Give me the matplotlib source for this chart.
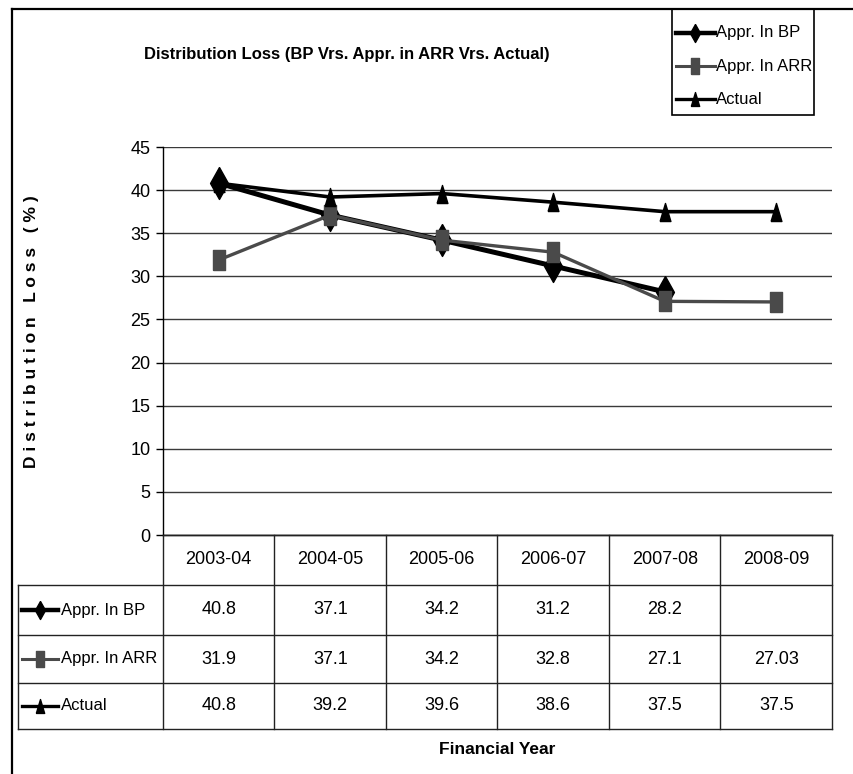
import matplotlib.pyplot as plt
import numpy as np
from matplotlib.patches import Rectangle

plt.rcParams['font.family'] = ['Liberation Sans Narrow', 'Liberation Sans', 'DejaVu Sans']

years = ['2003-04', '2004-05', '2005-06', '2006-07', '2007-08', '2008-09']
appr_bp = [40.8, 37.1, 34.2, 31.2, 28.2, None]
appr_arr = [31.9, 37.1, 34.2, 32.8, 27.1, 27.03]
actual = [40.8, 39.2, 39.6, 38.6, 37.5, 37.5]
series_names = ['Appr. In BP', 'Appr. In ARR', 'Actual']
yticks = [0, 5, 10, 15, 20, 25, 30, 35, 40, 45]

W, H = 854, 774
fig = plt.figure(figsize=(W / 100, H / 100), dpi=100)
FS = 12      # row labels and legend
FS_NUM = 13  # ticks, years and table values

# tall marker shapes
diamond = [(0, 0.5), (0.28, 0), (0, -0.5), (-0.28, 0), (0, 0.5)]
square = [(-0.29, -0.5), (0.29, -0.5), (0.29, 0.5), (-0.29, 0.5), (-0.29, -0.5)]
triangle = [(-0.3, -0.5), (0.3, -0.5), (0, 0.5), (-0.3, -0.5)]

styles = [
    dict(color='black', lw=3.6, marker=diamond, ms=23),
    dict(color='#4a4a4a', lw=2.4, marker=square, ms=15),
    dict(color='black', lw=2.6, marker=triangle, ms=13),
]

# main plot area
left, right, top, bottom = 163, 832, 147, 535
ax = fig.add_axes([left / W, 1 - bottom / H, (right - left) / W, (bottom - top) / H])
x = np.arange(len(years))
values = [appr_bp, appr_arr, actual]
for vals, st in zip(values, styles):
    xs = [i for i, v in zip(x, vals) if v is not None]
    ys = [v for v in vals if v is not None]
    ax.plot(xs, ys, color=st['color'], lw=st['lw'], marker=st['marker'],
            ms=st['ms'], mfc=st['color'], mec=st['color'], solid_joinstyle='miter')

ax.set_xlim(-0.5, len(years) - 0.5)
ax.set_ylim(0, 45)
ax.set_yticks(yticks)
ax.set_yticklabels([str(t) for t in yticks], fontsize=FS_NUM)
ax.set_xticks([])
ax.yaxis.grid(True, color='#3a3a3a', lw=1)
ax.set_axisbelow(True)
ax.tick_params(axis='y', length=5, width=1, pad=4)
for s in ['top', 'right']:
    ax.spines[s].set_visible(False)
ax.spines['left'].set_linewidth(1)
ax.spines['bottom'].set_linewidth(1)

# overlay in pixel coordinates for the frame, legend and data table
ov = fig.add_axes([0, 0, 1, 1], zorder=5)
ov.set_xlim(0, W)
ov.set_ylim(H, 0)
ov.axis('off')
ov.patch.set_alpha(0)

# outer frame
ov.plot([12, W], [9, 9], color='black', lw=1.6)
ov.plot([12, 12], [9, H], color='black', lw=1.6)

ov.text(347, 55, 'Distribution Loss (BP Vrs. Appr. in ARR Vrs. Actual)',
        fontsize=12, fontweight='bold', ha='center', va='center')
ov.text(32, 332, 'D i s t r i b u t i o n   L o s s   ( % )', fontsize=12.5,
        fontweight='bold', rotation=90, ha='center', va='center')
ov.text(497, 749, 'Financial Year', fontsize=12.5, fontweight='bold',
        ha='center', va='center')

leg_styles = [
    dict(color='black', lw=3.2, marker=diamond, ms=13),
    dict(color='#4a4a4a', lw=2.2, marker=square, ms=11),
    dict(color='black', lw=2.4, marker=triangle, ms=10),
]


def handle(x0, x1, y, st):
    ov.plot([x0, x1], [y, y], color=st['color'], lw=st['lw'])
    ov.plot([(x0 + x1) / 2], [y], marker=st['marker'], ms=st['ms'],
            color=st['color'], mec=st['color'])


# legend box
ov.add_patch(Rectangle((672, 9), 142, 106, fill=False, ec='black', lw=1.2))
for i, (name, st) in enumerate(zip(series_names, leg_styles)):
    y = 33 + i * 33
    handle(676, 715, y, st)
    ov.text(716, y, name, fontsize=FS, ha='left', va='center')

# data table
col_edges = np.linspace(left, right, len(years) + 1)
row_edges = [535, 585, 635, 683, 729]
tab_left = 18
lc = '#222222'
ov.plot([left, right], [row_edges[0], row_edges[0]], color=lc, lw=1)
for yy in row_edges[1:]:
    ov.plot([tab_left, right], [yy, yy], color=lc, lw=1)
for xx in col_edges:
    ov.plot([xx, xx], [row_edges[0], row_edges[-1]], color=lc, lw=1)
ov.plot([tab_left, tab_left], [row_edges[1], row_edges[-1]], color=lc, lw=1)

for j, yr in enumerate(years):
    cx = (col_edges[j] + col_edges[j + 1]) / 2
    ov.text(cx, (row_edges[0] + row_edges[1]) / 2, yr, fontsize=FS_NUM,
            ha='center', va='center')

for i, (name, vals, st) in enumerate(zip(series_names, values, leg_styles)):
    cy = (row_edges[i + 1] + row_edges[i + 2]) / 2
    handle(22, 58, cy, st)
    ov.text(61, cy, name, fontsize=FS, ha='left', va='center')
    for j, v in enumerate(vals):
        if v is None:
            continue
        cx = (col_edges[j] + col_edges[j + 1]) / 2
        ov.text(cx, cy, f'{v:g}', fontsize=FS_NUM, ha='center', va='center')

fig.savefig('out.png', dpi=100)
